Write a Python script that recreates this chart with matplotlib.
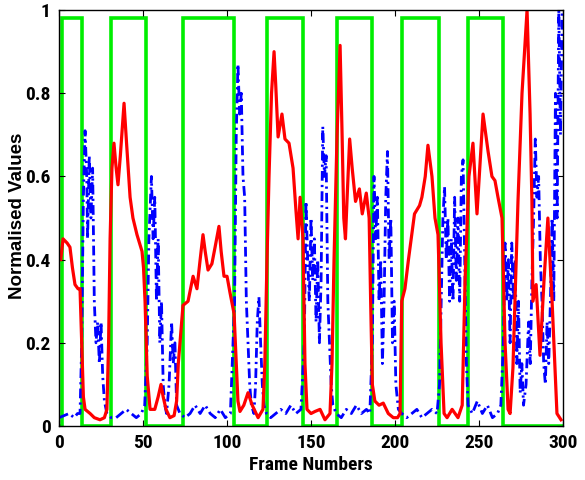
import matplotlib
matplotlib.use("Agg")
import matplotlib.pyplot as plt
from matplotlib import font_manager as fm

# green square wave (ground-truth segments)
green_edges = [0, 2.0, 13.5, 30.8, 51.6, 73.6, 104.3, 123.6, 145.4, 165.3,
               186.5, 204.0, 226.4, 243.3, 264.5, 300]
green_vals = [0, 0.98, 0, 0.98, 0, 0.98, 0, 0.98, 0, 0.98, 0, 0.98, 0, 0.98, 0]

# red solid curve
red_x = [1, 2.4, 4.8, 6.5, 8, 9.5, 11.3, 12.5, 13.5, 14.5, 15.5, 18.5, 21, 24.4, 27,
         28.5, 29.5, 30.4, 31.5, 32.7, 34, 35.1, 36.5, 38.7, 40.2, 42.3, 44, 46.4,
         49.4, 50.3, 51.2, 52.5, 54.2, 57, 59, 60.7, 62, 63.7, 66, 68.5, 70, 71, 72,
         73.8, 76.8, 79.8, 82.1, 84, 85.7, 87, 88.7, 91, 92.9, 95.2, 96.5, 98.2, 100,
         101.8, 104.2, 105.5, 106.5, 107.7, 110, 112.5, 115, 118.5, 121.4, 122.5,
         123.8, 125, 126.5, 128, 129, 130.4, 132.7, 134.5, 136.9, 139.3, 141, 142.3,
         143.5, 145.2, 146.4, 147.6, 150, 152.4, 155.4, 158.3, 161.3, 162.5, 163.7,
         165.5, 167.3, 168.5, 169.5, 170.5, 171.5, 173, 174.5, 176.5, 178.8, 180.5,
         182.9, 184.6, 185.5, 186.5, 188, 190.5, 193, 196, 199, 201.5, 203, 204,
         205.9, 208, 211.6, 214.6, 216, 218, 219.6, 222, 223.8, 225.6, 227.4, 229.2,
         231, 234, 237.5, 240, 241.7, 244, 246.4, 248.8, 252.4, 255.4, 257.7, 259.5,
         261.3, 263.7, 265.5, 267.3, 268.5, 270.2, 273.2, 275.6, 278.6, 280.4, 281.5,
         282.1, 284, 286.3, 288.7, 291, 293.5, 296.4, 298.8]
red_y = [0.40, 0.45, 0.44, 0.43, 0.38, 0.34, 0.33, 0.33, 0.20, 0.07, 0.04, 0.03, 0.02,
         0.015, 0.02, 0.04, 0.20, 0.45, 0.62, 0.68, 0.62, 0.58, 0.65, 0.776, 0.68,
         0.55, 0.50, 0.46, 0.42, 0.38, 0.30, 0.12, 0.04, 0.04, 0.07, 0.10, 0.07, 0.04,
         0.02, 0.025, 0.06, 0.15, 0.20, 0.29, 0.30, 0.36, 0.33, 0.40, 0.46, 0.42,
         0.375, 0.39, 0.43, 0.48, 0.42, 0.36, 0.36, 0.32, 0.27, 0.15, 0.06, 0.035,
         0.05, 0.08, 0.05, 0.02, 0.04, 0.15, 0.40, 0.60, 0.80, 0.90, 0.82, 0.695,
         0.75, 0.69, 0.68, 0.62, 0.52, 0.45, 0.55, 0.45, 0.15, 0.04, 0.03, 0.035,
         0.04, 0.015, 0.03, 0.15, 0.40, 0.70, 0.915, 0.70, 0.50, 0.45, 0.55, 0.69,
         0.62, 0.54, 0.57, 0.51, 0.56, 0.50, 0.30, 0.10, 0.06, 0.05, 0.055, 0.03,
         0.02, 0.02, 0.03, 0.30, 0.33, 0.40, 0.51, 0.53, 0.55, 0.60, 0.675, 0.60,
         0.50, 0.46, 0.20, 0.03, 0.02, 0.04, 0.02, 0.05, 0.35, 0.60, 0.68, 0.51,
         0.75, 0.66, 0.60, 0.59, 0.55, 0.50, 0.20, 0.04, 0.03, 0.14, 0.54, 0.80,
         1.0, 0.75, 0.54, 0.30, 0.34, 0.17, 0.35, 0.50, 0.30, 0.03, 0.015]

# blue dash-dot curve
blue_x = [0, 3, 6, 9, 11, 12.5,
          13.5, 14.5, 15.5, 16.5, 17, 18, 19, 20, 21, 22, 23, 24, 25, 26, 27, 28.5, 31,
          34, 37, 40, 43, 46, 49, 51,
          52.5, 53.5, 55, 56, 57, 58, 59, 60, 61, 62, 63, 64, 65.5, 67, 68, 69, 70, 72,
          75, 78, 81, 84, 87, 90, 93, 96, 99, 102,
          104.5, 105.5, 106.5, 107.5, 108.5, 109.5, 110.5, 111.5, 112.5, 113.5, 114.5,
          116, 117, 118, 119, 120, 121, 122, 123.5,
          126, 129, 132, 135, 138, 141, 144,
          146, 147, 148, 149, 150, 151, 152, 153, 154, 155, 156, 157, 158, 159, 160,
          161, 162, 163, 165,
          168, 171, 174, 177, 180, 183, 185,
          186.5, 187.5, 188.5, 189.5, 190.5, 191.5, 192.5, 193.5, 194.5, 195.5, 196.5,
          197.5, 198.5, 199.5, 200.5, 202, 204,
          207, 210, 213, 216, 219, 222, 225,
          226.5, 227.5, 228.5, 229.5, 230.5, 231.5, 232.5, 233.5, 234.5, 235.5, 236.5,
          237.5, 238.5, 239.5, 240.5, 241.5, 242.5, 243.5,
          246, 249, 252, 255, 258, 261, 263,
          264.5, 265.5, 266.5, 267.5, 268.5, 269.5, 270.5, 271.5, 272.5, 273.5, 274.5,
          275.5, 276.5, 278, 279.5, 280.5, 281.5, 282.5, 283.5, 284.5, 285.5, 286.5,
          287.5, 288.5, 289.5, 290.5, 291.5, 292.5, 293.5, 294.5, 295.5, 296.5, 297.5,
          298.5, 299.5]
blue_y = [0.02, 0.025, 0.03, 0.02, 0.03, 0.03,
          0.20, 0.55, 0.71, 0.60, 0.45, 0.65, 0.50, 0.62, 0.30, 0.20, 0.25, 0.15, 0.25,
          0.12, 0.06, 0.03, 0.02,
          0.02, 0.03, 0.04, 0.03, 0.02, 0.03, 0.05,
          0.20, 0.45, 0.60, 0.45, 0.55, 0.30, 0.45, 0.20, 0.30, 0.10, 0.05, 0.03, 0.10,
          0.25, 0.15, 0.20, 0.05, 0.03,
          0.02, 0.03, 0.05, 0.03, 0.05, 0.03, 0.02, 0.04, 0.02, 0.03,
          0.30, 0.70, 0.87, 0.75, 0.80, 0.60, 0.55, 0.30, 0.20, 0.10, 0.05,
          0.03, 0.10, 0.25, 0.31, 0.20, 0.10, 0.05, 0.03,
          0.02, 0.03, 0.04, 0.03, 0.05, 0.03, 0.04,
          0.20, 0.54, 0.40, 0.30, 0.50, 0.35, 0.45, 0.25, 0.40, 0.20, 0.35, 0.72, 0.60,
          0.65, 0.30, 0.20, 0.10, 0.05, 0.03,
          0.02, 0.04, 0.03, 0.05, 0.03, 0.04, 0.03,
          0.20, 0.60, 0.45, 0.55, 0.30, 0.40, 0.15, 0.30, 0.55, 0.66, 0.40,
          0.50, 0.20, 0.30, 0.10, 0.04, 0.03,
          0.02, 0.03, 0.04, 0.02, 0.03, 0.04, 0.03,
          0.10, 0.30, 0.50, 0.575, 0.40, 0.50, 0.30, 0.45, 0.30, 0.55, 0.35,
          0.50, 0.30, 0.60, 0.64, 0.40, 0.15, 0.05,
          0.03, 0.06, 0.03, 0.05, 0.02, 0.03, 0.05,
          0.20, 0.44, 0.30, 0.40, 0.20, 0.44, 0.30, 0.40, 0.15, 0.30, 0.08,
          0.15, 0.05, 0.10, 0.25, 0.15, 0.35, 0.50, 0.69, 0.55, 0.60, 0.40,
          0.30, 0.15, 0.10, 0.25, 0.15, 0.30, 0.50, 0.30, 0.80, 0.50, 1.0,
          0.70, 1.0]

x_ticks = [0, 50, 100, 150, 200, 250, 300]
y_ticks = [0, 0.2, 0.4, 0.6, 0.8, 1]
y_tick_labels = ["0", "0.2", "0.4", "0.6", "0.8", "1"]

# the original has narrow (squeezed) text, so look for a condensed face
names = {f.name for f in fm.fontManager.ttflist}
cond_family, cond_stretch = 'Liberation Sans', 'normal'
for nm in ['Liberation Sans Narrow', 'Roboto Condensed', 'Open Sans Condensed']:
    if nm in names:
        cond_family = nm
        break
else:
    if any(f.name == 'DejaVu Sans' and f.stretch == 'condensed' for f in fm.fontManager.ttflist):
        cond_family, cond_stretch = 'DejaVu Sans', 'condensed'

cond_font = dict(family=cond_family, stretch=cond_stretch, weight='bold')

plt.rcParams['font.family'] = ['Liberation Sans', 'DejaVu Sans']
plt.rcParams['font.weight'] = 'bold'

fig = plt.figure(figsize=(5.85, 4.8), dpi=100)
ax = fig.add_axes([0.1009, 0.1125, 0.8615, 0.8665])

ax.stairs(green_vals, green_edges, baseline=None, color='#00ee00', lw=2.6)
ax.plot(blue_x, blue_y, color='#0000ff', lw=2.0, dashes=[3.5, 1.5, 0.8, 1.5])
ax.plot(red_x, red_y, color='#ff0000', lw=2.3)

ax.set_xlim(0, 300)
ax.set_ylim(0, 1)
ax.set_xticks(x_ticks)
ax.set_yticks(y_ticks)
ax.set_yticklabels(y_tick_labels)
ax.tick_params(direction='in', top=True, right=True, length=4, width=0.8, pad=6)
for lab in ax.get_xticklabels() + ax.get_yticklabels():
    lab.set_fontproperties(fm.FontProperties(size=14, **cond_font))
for s in ax.spines.values():
    s.set_linewidth(1.0)

ax.set_xlabel("Frame Numbers", fontsize=14, **cond_font)
ax.xaxis.set_label_coords(0.5, -0.072)
ax.xaxis.label.set_va('top')
ax.set_ylabel("Normalised Values", fontsize=13.5, fontweight='bold')
ax.yaxis.set_label_coords(-0.065, 0.505)

fig.savefig("out.png", dpi=100)
